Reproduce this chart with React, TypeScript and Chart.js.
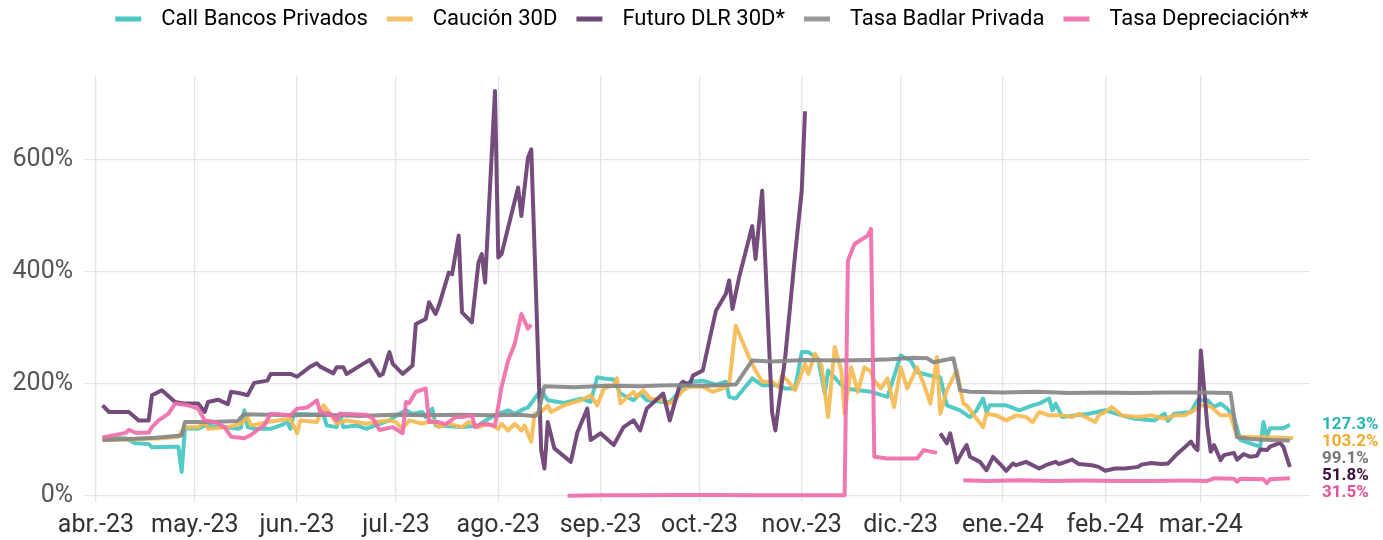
import React, { useEffect, useRef } from 'react';
import { Chart, registerables } from 'chart.js';

Chart.register(...registerables);

// ---------- axis ticks ----------
const monthTickDates = [
  '2023-04-01', '2023-05-01', '2023-06-01', '2023-07-01', '2023-08-01', '2023-09-01',
  '2023-10-01', '2023-11-01', '2023-12-01', '2024-01-01', '2024-02-01', '2024-03-01',
];
const monthTickLabels = [
  'abr.-23', 'may.-23', 'jun.-23', 'jul.-23', 'ago.-23', 'sep.-23',
  'oct.-23', 'nov.-23', 'dic.-23', 'ene.-24', 'feb.-24', 'mar.-24',
];
const yTickValues = [0, 200, 400, 600];

// ---------- series: Call Bancos Privados ----------
const callDates = [
  '2023-04-03', '2023-04-10', '2023-04-13', '2023-04-17', '2023-04-18', '2023-04-25', '2023-04-26', '2023-04-27',
  '2023-04-28', '2023-05-02', '2023-05-04', '2023-05-10', '2023-05-14', '2023-05-15', '2023-05-16', '2023-05-17',
  '2023-05-19', '2023-05-24', '2023-05-27', '2023-05-29', '2023-05-30', '2023-05-31', '2023-06-09', '2023-06-10',
  '2023-06-13', '2023-06-14', '2023-06-15', '2023-06-19', '2023-06-22', '2023-06-26', '2023-06-29', '2023-07-02',
  '2023-07-04', '2023-07-06', '2023-07-09', '2023-07-10', '2023-07-12', '2023-07-13', '2023-07-21', '2023-07-26',
  '2023-07-29', '2023-08-01', '2023-08-04', '2023-08-06', '2023-08-09', '2023-08-10', '2023-08-12', '2023-08-14',
  '2023-08-16', '2023-08-21', '2023-08-26', '2023-08-29', '2023-08-31', '2023-09-02', '2023-09-05', '2023-09-07',
  '2023-09-11', '2023-09-13', '2023-09-15', '2023-09-20', '2023-09-22', '2023-09-28', '2023-10-02', '2023-10-06',
  '2023-10-09', '2023-10-10', '2023-10-12', '2023-10-17', '2023-10-20', '2023-10-24', '2023-10-27', '2023-10-30',
  '2023-11-01', '2023-11-03', '2023-11-06', '2023-11-08', '2023-11-09', '2023-11-14', '2023-11-22', '2023-11-27',
  '2023-12-01', '2023-12-04', '2023-12-06', '2023-12-10', '2023-12-13', '2023-12-15', '2023-12-19', '2023-12-22',
  '2023-12-24', '2023-12-26', '2023-12-27', '2023-12-28', '2024-01-02', '2024-01-06', '2024-01-10', '2024-01-12',
  '2024-01-15', '2024-01-16', '2024-01-17', '2024-01-19', '2024-01-23', '2024-01-27', '2024-02-01', '2024-02-06',
  '2024-02-10', '2024-02-16', '2024-02-19', '2024-02-20', '2024-02-22', '2024-02-27', '2024-02-29', '2024-03-03',
  '2024-03-05', '2024-03-07', '2024-03-09', '2024-03-11', '2024-03-13', '2024-03-16', '2024-03-19', '2024-03-20',
  '2024-03-21', '2024-03-22', '2024-03-26', '2024-03-28',
];
const callValues = [
  103, 103, 94, 93, 87, 88, 88, 43,
  121, 120, 126, 123, 120, 122, 153, 123,
  120, 120, 126, 132, 120, 147, 145, 126,
  123, 147, 123, 126, 120, 129, 135, 147,
  153, 147, 150, 141, 156, 126, 123, 126,
  138, 147, 153, 147, 156, 158, 174, 189,
  171, 166, 174, 168, 212, 210, 208, 183,
  171, 183, 171, 168, 168, 204, 206, 199,
  204, 177, 174, 210, 198, 198, 192, 192,
  257, 257, 245, 183, 224, 192, 186, 177,
  251, 242, 221, 215, 212, 162, 153, 141,
  153, 174, 150, 162, 162, 153, 162, 165,
  174, 153, 165, 141, 144, 147, 153, 144,
  138, 135, 147, 134, 147, 150, 171, 171,
  159, 165, 156, 141, 100, 94, 88, 132,
  106, 121, 121, 127.3,
];

// ---------- series: Caución 30D ----------
const caucionDates = [
  '2023-04-03', '2023-04-11', '2023-04-21', '2023-04-26', '2023-04-28', '2023-05-02', '2023-05-04', '2023-05-05',
  '2023-05-11', '2023-05-15', '2023-05-17', '2023-05-18', '2023-05-23', '2023-05-30', '2023-06-01', '2023-06-02',
  '2023-06-07', '2023-06-09', '2023-06-11', '2023-06-13', '2023-06-16', '2023-06-22', '2023-06-25', '2023-06-29',
  '2023-07-01', '2023-07-03', '2023-07-05', '2023-07-09', '2023-07-12', '2023-07-14', '2023-07-17', '2023-07-21',
  '2023-07-23', '2023-07-26', '2023-07-29', '2023-08-01', '2023-08-02', '2023-08-04', '2023-08-06', '2023-08-08',
  '2023-08-09', '2023-08-11', '2023-08-12', '2023-08-14', '2023-08-16', '2023-08-17', '2023-08-21', '2023-08-26',
  '2023-08-29', '2023-08-31', '2023-09-02', '2023-09-05', '2023-09-06', '2023-09-07', '2023-09-11', '2023-09-12',
  '2023-09-14', '2023-09-16', '2023-09-20', '2023-09-22', '2023-09-24', '2023-09-26', '2023-09-28', '2023-10-02',
  '2023-10-05', '2023-10-08', '2023-10-10', '2023-10-12', '2023-10-16', '2023-10-18', '2023-10-20', '2023-10-23',
  '2023-10-25', '2023-10-26', '2023-10-28', '2023-10-30', '2023-11-02', '2023-11-03', '2023-11-05', '2023-11-07',
  '2023-11-09', '2023-11-11', '2023-11-13', '2023-11-14', '2023-11-16', '2023-11-18', '2023-11-20', '2023-11-22',
  '2023-11-23', '2023-11-25', '2023-11-27', '2023-11-29', '2023-12-01', '2023-12-03', '2023-12-06', '2023-12-08',
  '2023-12-10', '2023-12-12', '2023-12-13', '2023-12-15', '2023-12-18', '2023-12-20', '2023-12-21', '2023-12-24',
  '2023-12-26', '2023-12-27', '2023-12-30', '2024-01-02', '2024-01-05', '2024-01-08', '2024-01-10', '2024-01-12',
  '2024-01-15', '2024-01-19', '2024-01-22', '2024-01-24', '2024-01-26', '2024-01-29', '2024-01-30', '2024-02-01',
  '2024-02-03', '2024-02-06', '2024-02-11', '2024-02-15', '2024-02-19', '2024-02-22', '2024-02-25', '2024-02-28',
  '2024-03-01', '2024-03-04', '2024-03-07', '2024-03-10', '2024-03-12', '2024-03-18', '2024-03-26', '2024-03-29',
];
const caucionValues = [
  100, 101, 103, 106, 123, 123, 132, 120,
  123, 129, 141, 126, 132, 138, 112, 135,
  132, 162, 147, 129, 135, 129, 132, 135,
  132, 120, 135, 129, 135, 123, 129, 123,
  132, 123, 129, 120, 129, 117, 129, 117,
  126, 97, 147, 150, 162, 150, 162, 171,
  180, 162, 192, 198, 210, 165, 186, 177,
  189, 174, 171, 165, 174, 189, 195, 195,
  186, 192, 198, 304, 248, 224, 204, 204,
  195, 215, 204, 189, 236, 218, 254, 233,
  141, 266, 224, 147, 230, 186, 230, 222,
  206, 192, 210, 159, 230, 192, 230, 200,
  165, 248, 147, 189, 224, 165, 162, 138,
  123, 147, 144, 135, 144, 141, 132, 150,
  144, 144, 141, 147, 141, 132, 144, 150,
  159, 144, 141, 144, 138, 144, 144, 153,
  162, 160, 144, 144, 106, 105, 104, 103.2,
];

// ---------- series: Futuro DLR 30D* ----------
const futuroDates = [
  '2023-04-03', '2023-04-05', '2023-04-11', '2023-04-14', '2023-04-17', '2023-04-18', '2023-04-21', '2023-04-25',
  '2023-04-28', '2023-05-02', '2023-05-04', '2023-05-05', '2023-05-08', '2023-05-11', '2023-05-12', '2023-05-15',
  '2023-05-17', '2023-05-19', '2023-05-23', '2023-05-24', '2023-05-30', '2023-06-01', '2023-06-05', '2023-06-07',
  '2023-06-08', '2023-06-12', '2023-06-13', '2023-06-15', '2023-06-16', '2023-06-21', '2023-06-23', '2023-06-26',
  '2023-06-27', '2023-06-29', '2023-06-30', '2023-07-03', '2023-07-06', '2023-07-07', '2023-07-10', '2023-07-11',
  '2023-07-13', '2023-07-14', '2023-07-17', '2023-07-18', '2023-07-20', '2023-07-21', '2023-07-24', '2023-07-26',
  '2023-07-27', '2023-07-28', '2023-07-31', '2023-08-01', '2023-08-02', '2023-08-07', '2023-08-08', '2023-08-10',
  '2023-08-11', '2023-08-14', '2023-08-15', '2023-08-16', '2023-08-18', '2023-08-23', '2023-08-25', '2023-08-28',
  '2023-08-29', '2023-09-01', '2023-09-05', '2023-09-08', '2023-09-11', '2023-09-13', '2023-09-15', '2023-09-20',
  '2023-09-22', '2023-09-25', '2023-09-26', '2023-09-28', '2023-09-29', '2023-10-02', '2023-10-04', '2023-10-06',
  '2023-10-09', '2023-10-10', '2023-10-11', '2023-10-13', '2023-10-17', '2023-10-18', '2023-10-20', '2023-10-23',
  '2023-10-24', '2023-10-27', '2023-10-30', '2023-11-01', '2023-11-02', '2023-11-20', '2023-12-13', '2023-12-15',
  '2023-12-16', '2023-12-18', '2023-12-20', '2023-12-21', '2023-12-22', '2023-12-25', '2023-12-27', '2023-12-29',
  '2023-12-31', '2024-01-02', '2024-01-04', '2024-01-05', '2024-01-08', '2024-01-12', '2024-01-14', '2024-01-17',
  '2024-01-18', '2024-01-22', '2024-01-24', '2024-01-28', '2024-01-30', '2024-02-01', '2024-02-04', '2024-02-07',
  '2024-02-11', '2024-02-12', '2024-02-15', '2024-02-18', '2024-02-20', '2024-02-23', '2024-02-27', '2024-02-28',
  '2024-02-29', '2024-03-01', '2024-03-03', '2024-03-04', '2024-03-05', '2024-03-07', '2024-03-08', '2024-03-11',
  '2024-03-12', '2024-03-14', '2024-03-16', '2024-03-18', '2024-03-19', '2024-03-21', '2024-03-22', '2024-03-25',
  '2024-03-26', '2024-03-28',
];
const futuroValues = [
  162, 150, 150, 135, 135, 180, 189, 168,
  165, 165, 150, 168, 172, 164, 186, 183,
  180, 202, 206, 218, 218, 213, 231, 237,
  231, 219, 230, 230, 218, 236, 243, 215,
  218, 257, 236, 218, 233, 307, 316, 346,
  325, 340, 399, 396, 465, 328, 310, 417,
  432, 381, 723, 426, 432, 551, 500, 604,
  619, 82, 49, 132, 85, 61, 114, 156,
  100, 112, 91, 123, 135, 117, 156, 183,
  135, 198, 204, 198, 215, 224, 278, 331,
  361, 385, 334, 390, 482, 423, 545, 150,
  117, 248, 432, 545, 687, null, 112, 94,
  112, 60, 82, 91, 70, 61, 46, 70,
  58, 45, 58, 55, 61, 49, 55, 61,
  57, 65, 57, 55, 52, 45, 49, 49,
  52, 56, 59, 57, 58, 76, 97, 88,
  82, 260, 123, 79, 91, 64, 73, 77,
  65, 75, 70, 72, 83, 82, 88, 95,
  88, 51.8,
];

// ---------- series: Tasa Badlar Privada ----------
const badlarDates = [
  '2023-04-03', '2023-04-11', '2023-04-19', '2023-04-27', '2023-04-28', '2023-05-06', '2023-05-14', '2023-05-16',
  '2023-05-23', '2023-05-31', '2023-06-10', '2023-06-20', '2023-06-30', '2023-07-10', '2023-07-20', '2023-07-30',
  '2023-08-07', '2023-08-12', '2023-08-13', '2023-08-15', '2023-08-24', '2023-09-03', '2023-09-13', '2023-09-23',
  '2023-10-03', '2023-10-12', '2023-10-17', '2023-10-23', '2023-11-02', '2023-11-12', '2023-11-22', '2023-11-28',
  '2023-12-05', '2023-12-09', '2023-12-11', '2023-12-17', '2023-12-19', '2023-12-22', '2024-01-01', '2024-01-11',
  '2024-01-21', '2024-01-31', '2024-02-10', '2024-02-20', '2024-03-01', '2024-03-10', '2024-03-12', '2024-03-16',
  '2024-03-22', '2024-03-28',
];
const badlarValues = [
  100, 102, 104, 108, 132, 132, 134, 146,
  145, 144, 145, 143, 145, 144, 145, 144,
  145, 143, 145, 196, 194, 197, 196, 198,
  197, 199, 242, 240, 243, 242, 243, 244,
  247, 246, 239, 246, 189, 186, 185, 186,
  184, 185, 184, 185, 185, 184, 105, 102,
  100, 99.1,
];

// ---------- series: Tasa Depreciación** ----------
const deprecDates = [
  '2023-04-03', '2023-04-10', '2023-04-11', '2023-04-13', '2023-04-17', '2023-04-18', '2023-04-20', '2023-04-23',
  '2023-04-25', '2023-04-29', '2023-05-02', '2023-05-04', '2023-05-07', '2023-05-10', '2023-05-12', '2023-05-16',
  '2023-05-18', '2023-05-20', '2023-05-22', '2023-05-24', '2023-05-30', '2023-06-01', '2023-06-04', '2023-06-05',
  '2023-06-07', '2023-06-08', '2023-06-11', '2023-06-13', '2023-06-14', '2023-06-22', '2023-06-24', '2023-06-26',
  '2023-06-30', '2023-07-03', '2023-07-04', '2023-07-05', '2023-07-07', '2023-07-10', '2023-07-11', '2023-07-14',
  '2023-07-16', '2023-07-19', '2023-07-21', '2023-07-24', '2023-07-25', '2023-07-27', '2023-07-31', '2023-08-02',
  '2023-08-04', '2023-08-06', '2023-08-08', '2023-08-10', '2023-08-11', '2023-08-16', '2023-08-22', '2023-09-01',
  '2023-09-12', '2023-09-25', '2023-10-06', '2023-10-18', '2023-10-30', '2023-11-08', '2023-11-14', '2023-11-15',
  '2023-11-17', '2023-11-21', '2023-11-22', '2023-11-23', '2023-11-27', '2023-12-06', '2023-12-08', '2023-12-12',
  '2023-12-16', '2023-12-20', '2023-12-27', '2024-01-06', '2024-01-16', '2024-01-26', '2024-02-05', '2024-02-15',
  '2024-02-25', '2024-03-03', '2024-03-05', '2024-03-11', '2024-03-12', '2024-03-13', '2024-03-20', '2024-03-21',
  '2024-03-22', '2024-03-28',
];
const deprecValues = [
  104.5, 112.7, 118, 113, 113, 123, 135, 147,
  165, 162, 156, 135, 132, 123, 106, 103,
  109, 118, 126, 147, 144, 156, 158, 162,
  171, 150, 147, 135, 147, 145, 138, 118,
  123, 112, 168, 166, 186, 192, 132, 132,
  128, 141, 141, 144, 123, 129, 126, 195,
  242, 272, 325, 299, 306, null, 0.5, 1.2,
  1.5, 1.8, 2, 1.5, 1.2, 1.4, 1.2, 420,
  450, 465, 477, 70, 67, 67, 82, 77,
  null, 28, 27, 28, 27, 27.5, 27, 27,
  27.5, 27, 31.5, 31, 25.5, 31, 30, 23,
  30, 31.5,
];

// ---------- names & colours ----------
const seriesNames = ['Call Bancos Privados', 'Caución 30D', 'Futuro DLR 30D*', 'Tasa Badlar Privada', 'Tasa Depreciación**'];
const lineColors = ['rgba(64,196,191,0.9)', 'rgba(245,185,80,0.9)', 'rgba(104,62,114,0.92)', 'rgba(135,135,135,0.92)', 'rgba(239,110,170,0.92)'];
const swatchColors = ['#4cc6c2', '#f4c16a', '#6f4a78', '#999999', '#ef79b0'];
const endLabelColors = ['#27b7b0', '#f0aa2c', '#3c0d3e', '#777777', '#e4529a'];

// ---------- axis limits ----------
const X_MIN = -3.3;
const X_MAX = 368.1;
const Y_MIN = -10.7;
const Y_MAX = 750;

const BASE = Date.UTC(2023, 3, 1);
function toDay(s: string): number {
  const [y, m, d] = s.split('-').map(Number);
  return (Date.UTC(y, m - 1, d) - BASE) / 86400000;
}
function toPoints(dates: string[], values: (number | null)[]) {
  return dates.map((d, i) => ({ x: toDay(d), y: values[i] }));
}

function makeSwatch(color: string): HTMLCanvasElement {
  const c = document.createElement('canvas');
  c.width = 46;
  c.height = 6;
  const g = c.getContext('2d')!;
  g.fillStyle = color;
  g.fillRect(11, 0.5, 26, 5);
  return c;
}

const FONT = 'Roboto, "Noto Sans", "DejaVu Sans", sans-serif';

const legendSpacer = {
  id: 'legendSpacer',
  beforeInit(chart: any) {
    const legend = chart.legend;
    if (!legend) return;
    const orig = legend.fit;
    legend.fit = function () {
      orig.call(this);
      this.height += 36;
    };
  },
  afterLayout(chart: any) {
    if (chart.legend) chart.legend.left += 30;
  },
};

const endLabels = {
  id: 'endLabels',
  afterDatasetsDraw(chart: any) {
    const { ctx, chartArea } = chart;
    const yScale = chart.scales.y;
    const items = chart.data.datasets.map((ds: any, i: number) => {
      const pts = ds.data.filter((p: any) => p.y !== null && p.y !== undefined);
      const v = pts[pts.length - 1].y;
      return { v, color: endLabelColors[i], y: yScale.getPixelForValue(v) };
    });
    items.sort((a: any, b: any) => b.v - a.v);
    let prev = -Infinity;
    for (const it of items) {
      it.y = Math.max(it.y, prev + 17);
      prev = it.y;
    }
    ctx.save();
    ctx.font = `bold 17px ${FONT}`;
    ctx.textAlign = 'left';
    ctx.textBaseline = 'middle';
    for (const it of items) {
      ctx.fillStyle = it.color;
      ctx.fillText(`${it.v.toFixed(1)}%`, chartArea.right + 12, it.y);
    }
    ctx.restore();
  },
};

export default function App() {
  const ref = useRef<HTMLCanvasElement>(null);

  useEffect(() => {
    if (!ref.current) return;
    const seriesData = [
      toPoints(callDates, callValues),
      toPoints(caucionDates, caucionValues),
      toPoints(futuroDates, futuroValues),
      toPoints(badlarDates, badlarValues),
      toPoints(deprecDates, deprecValues),
    ];
    const tickDays = monthTickDates.map(toDay);
    const swatches = swatchColors.map(makeSwatch);

    const chart = new Chart(ref.current, {
      type: 'line',
      data: {
        datasets: seriesData.map((data, i) => ({
          label: seriesNames[i],
          data,
          borderColor: lineColors[i],
          backgroundColor: lineColors[i],
          borderWidth: 4,
          pointRadius: 0,
          tension: 0,
          borderJoinStyle: 'round' as const,
          borderCapStyle: 'butt' as const,
          spanGaps: false,
          order: 5 - i,
        })),
      },
      options: {
        responsive: false,
        devicePixelRatio: 1,
        animation: false,
        layout: { padding: { left: 0, right: 0, top: 0, bottom: 0 } },
        plugins: {
          tooltip: { enabled: false },
          legend: {
            position: 'top',
            align: 'center',
            labels: {
              usePointStyle: true,
              pointStyleWidth: 46,
              padding: 8,
              color: '#1f1f1f',
              font: { family: FONT, size: 22 },
              generateLabels: () =>
                seriesNames.map((name, i) => ({
                  text: name,
                  fillStyle: swatchColors[i],
                  strokeStyle: swatchColors[i],
                  lineWidth: 0,
                  pointStyle: swatches[i],
                  hidden: false,
                  datasetIndex: i,
                })) as any,
            },
          },
        },
        scales: {
          x: {
            type: 'linear',
            min: X_MIN,
            max: X_MAX,
            afterBuildTicks: (s: any) => {
              s.ticks = tickDays.map((v) => ({ value: v }));
            },
            afterFit: (s: any) => {
              s.height = 38;
            },
            ticks: {
              autoSkip: false,
              maxRotation: 0,
              padding: 9,
              color: '#333333',
              font: { family: FONT, size: 25 },
              callback: (v: any) => {
                const idx = tickDays.indexOf(Number(v));
                return idx >= 0 ? monthTickLabels[idx] : '';
              },
            },
            grid: { color: '#e5e5e5', lineWidth: 1.3, drawTicks: false },
            border: { display: false },
          },
          y: {
            type: 'linear',
            min: Y_MIN,
            max: Y_MAX,
            afterBuildTicks: (s: any) => {
              s.ticks = yTickValues.map((v) => ({ value: v }));
            },
            afterFit: (s: any) => {
              s.width = 85;
            },
            ticks: {
              padding: 12,
              color: '#555555',
              font: { family: FONT, size: 25 },
              callback: (v: any) => `${v}%`,
            },
            grid: { color: '#e5e5e5', lineWidth: 1.3, drawTicks: false },
            border: { display: false },
          },
          yR: {
            type: 'linear',
            position: 'right',
            display: true,
            afterFit: (s: any) => {
              s.width = 73;
            },
            ticks: { display: false },
            grid: { display: false, drawTicks: false },
            border: { display: false },
          },
        },
      } as any,
      plugins: [legendSpacer, endLabels],
    });
    return () => chart.destroy();
  }, []);

  return (
    <div style={{ position: 'fixed', left: 0, top: 0, width: 1383, height: 540, background: '#ffffff' }}>
      <canvas ref={ref} width={1383} height={540} style={{ display: 'block', width: 1383, height: 540 }} />
    </div>
  );
}
